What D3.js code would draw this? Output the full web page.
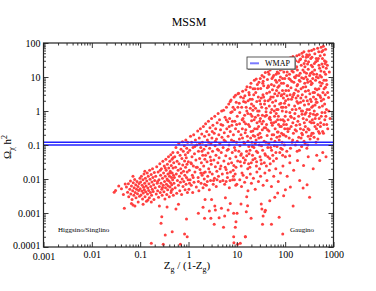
<!DOCTYPE html>
<html>
<head>
<meta charset="utf-8">
<script src="https://cdn.jsdelivr.net/npm/d3@7"></script>
<style>
body { margin:0; background:#fff; }
text { font-family:"Liberation Serif","Times New Roman",serif; fill:#000; }
</style>
</head>
<body>
<svg id="chart"></svg>
<script>
var screen = {width:376,height:291}
var plot = {left:43.5,right:333.5,top:43,bottom:247}

// tick labels
var xTicks = [0.001,0.01,0.1,1,10,100,1000]
var xTickLabels = ["0.001","0.01","0.1","1","10","100","1000"]
var yTicks = [0.0001,0.001,0.01,0.1,1,10,100]
var yTickLabels = ["0.0001","0.001","0.01","0.1","1","10","100"]

// WMAP band edges
var wmap = [0.1,0.12]

// [Zg/(1-Zg), Omega h^2]
var lowBand = [
 [0.029,0.0041],[0.031,0.0046],[0.036,0.0062],[0.041,0.0052],[0.045,0.0035],[0.049,0.0071],
 [0.052,0.0058],[0.055,0.0041],[0.057,0.0072],[0.058,0.0030],[0.061,0.0050],[0.063,0.0088],[0.064,0.0036],
 [0.066,0.0062],[0.068,0.0025],[0.070,0.0045],[0.072,0.0078],[0.074,0.0033],[0.075,0.0055],[0.077,0.0097],
 [0.079,0.0040],[0.081,0.0068],[0.082,0.0028],[0.084,0.0050],[0.086,0.0085],[0.088,0.0037],[0.090,0.0060],
 [0.091,0.0021],[0.093,0.0046],[0.095,0.0074],[0.097,0.0031],[0.099,0.0105],[0.066,0.0019],[0.071,0.0120],[0.078,0.0016],
 [0.100,0.0052],[0.102,0.0082],[0.104,0.0034],[0.106,0.0120],[0.108,0.0044],[0.110,0.0065],[0.112,0.0026],
 [0.114,0.0095],[0.116,0.0039],[0.118,0.0057],[0.120,0.0140],[0.122,0.0048],[0.124,0.0075],[0.126,0.0030],
 [0.128,0.0105],[0.130,0.0042],[0.133,0.0062],[0.135,0.0022],[0.137,0.0088],[0.140,0.0150],[0.142,0.0036],
 [0.144,0.0054],[0.147,0.0120],[0.150,0.0046],[0.152,0.0072],[0.155,0.0028],[0.157,0.0180],[0.160,0.0098],
 [0.163,0.0040],[0.166,0.0060],[0.169,0.0135],[0.172,0.0033],[0.175,0.0082],[0.178,0.0050],[0.180,0.0200],
 [0.183,0.0110],[0.186,0.0043],[0.190,0.0068],[0.193,0.0025],[0.196,0.0155],[0.200,0.0090],[0.115,0.0018],
 [0.145,0.0024],[0.170,0.0021],[0.125,0.0170],
 [0.205,0.0055],[0.210,0.0120],[0.215,0.0036],[0.220,0.0230],[0.225,0.0075],[0.230,0.0045],[0.235,0.0160],
 [0.240,0.0029],[0.245,0.0095],[0.250,0.0060],[0.255,0.0280],[0.260,0.0040],[0.265,0.0130],[0.270,0.0075],
 [0.275,0.0200],[0.280,0.0050],[0.285,0.0033],[0.290,0.0105],[0.295,0.0330],[0.300,0.0065],[0.305,0.0150],
 [0.310,0.0042],[0.315,0.0240],[0.320,0.0085],[0.325,0.0026],[0.330,0.0120],[0.335,0.0055],[0.340,0.0380],
 [0.345,0.0180],[0.350,0.0070],[0.355,0.0035],[0.360,0.0100],[0.365,0.0270],[0.370,0.0048],[0.375,0.0140],
 [0.380,0.0062],[0.385,0.0450],[0.390,0.0210],[0.395,0.0088],[0.400,0.0030],[0.405,0.0120],[0.410,0.0330],
 [0.415,0.0058],[0.420,0.0170],[0.425,0.0078],[0.430,0.0520],[0.435,0.0040],[0.440,0.0250],[0.445,0.0110],
 [0.450,0.0068],[0.455,0.0380],[0.460,0.0150],[0.465,0.0050],[0.470,0.0095],[0.475,0.0600],[0.480,0.0210],
 [0.485,0.0033],[0.490,0.0130],[0.495,0.0300],[0.500,0.0075],[0.230,0.0085],[0.260,0.0180],[0.290,0.0056],
 [0.330,0.0210],[0.370,0.0092],[0.410,0.0150],[0.440,0.0045],[0.480,0.0420],
 [0.51,0.011],[0.52,0.045],[0.53,0.0055],[0.54,0.022],[0.55,0.085],[0.56,0.0140],[0.57,0.0038],[0.58,0.033],
 [0.59,0.0090],[0.60,0.060],[0.61,0.018],[0.62,0.0065],[0.63,0.110],[0.64,0.028],[0.65,0.0120],[0.66,0.0045],
 [0.67,0.050],[0.68,0.0080],[0.69,0.020],[0.70,0.075],[0.71,0.0150],[0.72,0.0035],[0.73,0.040],[0.74,0.0100],
 [0.75,0.125],[0.76,0.026],[0.77,0.0060],[0.78,0.065],[0.79,0.017],[0.80,0.0085],[0.82,0.095],[0.83,0.034],
 [0.84,0.0130],[0.85,0.0048],[0.86,0.052],[0.87,0.022],[0.88,0.140],[0.89,0.0070],[0.90,0.042],[0.91,0.0110],
 [0.92,0.080],[0.93,0.027],[0.94,0.0160],[0.95,0.0040],[0.96,0.120],[0.97,0.060],[0.98,0.0095],[0.99,0.032]
]

var midCloud = [
 [1.02,0.0050],[1.04,0.018],[1.06,0.070],[1.08,0.0095],[1.10,0.180],[1.12,0.030],[1.14,0.0065],[1.16,0.120],
 [1.18,0.045],[1.20,0.0130],[1.22,0.0040],[1.24,0.085],[1.26,0.024],[1.28,0.200],[1.30,0.0080],[1.33,0.055],
 [1.36,0.0160],[1.39,0.140],[1.42,0.036],[1.45,0.0058],[1.48,0.100],
 [1.52,0.022],[1.55,0.260],[1.58,0.0110],[1.61,0.065],[1.64,0.0045],[1.67,0.160],[1.70,0.040],[1.73,0.0190],
 [1.76,0.300],[1.79,0.085],[1.82,0.0075],[1.85,0.030],[1.88,0.210],[1.91,0.0130],[1.94,0.120],[1.97,0.050],
 [2.00,0.0055],[2.03,0.350],[2.06,0.024],[2.09,0.075],[2.12,0.0100],[2.15,0.180],[2.18,0.038],
 [2.22,0.0160],[2.26,0.420],[2.30,0.095],[2.34,0.0065],[2.38,0.250],[2.42,0.032],[2.46,0.140],[2.50,0.0120],
 [2.54,0.058],[2.58,0.500],[2.62,0.0200],[2.66,0.200],[2.70,0.0048],[2.74,0.080],[2.78,0.320],[2.82,0.044],
 [2.86,0.0090],[2.90,0.110],[2.95,0.027],[3.00,0.600],[3.05,0.160],[3.10,0.0140],[3.15,0.065],[3.20,0.380],[3.25,0.0070],
 [3.35,0.036],[3.40,0.220],[3.45,0.0105],[3.50,0.700],[3.55,0.095],[3.60,0.0230],[3.65,0.300],[3.70,0.050],
 [3.75,0.0060],[3.80,0.150],[3.86,0.0170],[3.92,0.450],[3.98,0.075],[4.05,0.030],[4.10,0.850],[4.17,0.0120],
 [4.24,0.200],[4.30,0.042],[4.38,0.550],[4.45,0.110],[4.52,0.0085],[4.60,0.280],[4.68,0.024],[4.76,0.060],
 [4.85,1.00],[4.92,0.170],
 [5.0,0.0140],[5.1,0.380],[5.2,0.085],[5.3,1.05],[5.4,0.034],[5.5,0.230],[5.6,0.0070],[5.7,0.650],[5.8,0.130],
 [5.9,0.048],[6.0,0.0190],[6.1,1.30],[6.2,0.300],[6.3,0.070],[6.4,0.0110],[6.5,0.480],[6.6,0.180],[6.7,0.028],
 [6.8,1.60],[6.9,0.100],[7.0,0.0055],[7.1,0.600],[7.2,0.040],[7.3,0.250],[7.4,0.016],[7.3,1.90],
 [7.6,2.10],[7.75,0.140],[7.9,0.380],[8.05,0.060],[8.2,0.0095],[8.35,1.30],[8.5,0.200],[8.65,0.025],[8.8,2.60],
 [8.95,0.085],[9.1,0.500],[9.25,0.0140],[9.4,0.300],[9.55,0.045],[9.7,1.80],[9.85,0.120],[10.0,0.0070],
 [9.4,2.90],[8.0,0.95],
 [1.05,0.0075],[1.15,0.028],[1.25,0.0110],[1.35,0.090],[1.45,0.022],[1.6,0.0085],[1.7,0.11],[1.8,0.015],
 [1.9,0.065],[2.05,0.0150],[2.15,0.0070],[2.25,0.050],[2.45,0.0085],[2.6,0.120],[2.75,0.016],[2.9,0.035],
 [3.1,0.25],[3.3,0.0090],[3.6,0.130],[3.9,0.0095],[4.2,0.070],[4.5,0.020],[4.7,0.40],[5.15,0.0090],[5.45,0.14],
 [5.75,0.022],[6.05,0.55],[6.35,0.0150],[6.65,0.075],[6.95,0.35],[7.25,0.0090],[7.5,0.90],[7.8,0.030],[8.1,0.50],
 [8.4,0.0180],[8.7,0.13],[9.0,1.10],[9.3,0.070],[9.6,0.022],[9.9,0.40],[8.9,0.0095]
]

var upperCloud = [
 [10.2,0.70],[10.4,0.034],[10.6,3.2],[10.8,0.25],[11.0,0.065],[11.2,1.7],[11.4,0.42],[11.6,0.095],[11.8,0.032],
 [12.0,2.6],[12.2,0.20],[12.4,0.055],[12.6,1.30],[12.8,0.015],[13.0,0.30],[13.2,3.8],[13.4,0.60],[13.6,0.042],
 [13.8,1.9],[13.9,0.12],[11.5,0.90],[12.3,0.024],[13.1,0.16],[10.9,3.3],
 [14.1,0.48],[14.4,0.11],[14.7,2.8],[15.0,0.036],[15.3,0.28],[15.6,1.3],[15.9,0.065],[16.2,5.2],[16.5,0.18],
 [16.8,0.020],[17.1,2.0],[17.4,0.40],[17.7,0.090],[14.5,0.75],[15.4,4.2],[16.0,0.048],[16.9,0.85],[17.5,0.028],
 [14.9,0.23],[17.8,3.5],[15.1,1.8],
 [18.1,3.0],[18.4,0.35],[18.7,0.070],[19.0,1.2],[19.3,0.16],[19.6,6.5],[19.9,0.030],[20.2,0.52],[20.5,0.12],
 [20.8,2.2],[21.1,0.050],[21.4,0.26],[21.7,4.5],[18.6,0.022],[19.4,0.80],[20.1,1.6],[21.0,0.090],[21.8,0.19],
 [18.9,5.0],[21.5,1.05],
 [22.2,1.4],[22.6,0.085],[23.0,8.0],[23.4,0.30],[23.8,0.040],[24.2,0.65],[24.6,3.5],[25.0,0.14],[25.4,0.024],
 [25.8,1.9],[26.2,0.45],[26.6,6.0],[27.0,0.060],[27.4,0.20],[27.8,2.6],[22.8,0.55],[24.0,0.11],[25.6,0.032],
 [26.9,1.0],[23.6,4.5],[25.2,8.8],[27.6,0.75],
 [28.2,0.35],[28.7,7.0],[29.2,0.10],[29.7,2.0],[30.2,0.045],[30.7,0.60],[31.2,4.6],[31.7,0.17],[32.2,0.028],
 [32.7,1.3],[33.2,11.0],[33.7,0.28],[34.2,0.070],[34.7,3.0],[28.9,1.0],[30.0,0.22],[31.5,0.036],[33.0,0.42],
 [34.4,6.5],[29.5,0.020],[30.5,9.0],[32.0,2.4],
 [35.3,0.50],[36.0,5.5],[36.7,0.13],[37.4,1.6],[38.1,0.055],[38.8,13.5],[39.5,0.32],[40.2,0.95],[40.9,0.024],
 [41.6,3.3],[42.3,0.19],[43.0,8.5],[43.7,0.085],[44.4,2.0],[35.8,2.6],[37.0,0.030],[38.4,0.70],[39.9,0.12],
 [41.2,0.40],[42.8,4.8],[44.0,0.045],[36.4,10.0],[40.5,1.2],[44.6,14.0],
 [45.2,5.2],[46.1,0.26],[47.0,1.4],[47.9,0.040],[48.8,16.0],[49.7,0.55],[50.6,2.6],[51.5,0.15],[52.4,0.070],
 [53.3,9.0],[54.2,0.38],[55.1,1.8],[45.8,0.11],[47.5,3.6],[49.0,0.028],[50.2,0.90],[52.0,6.0],[53.8,0.20],
 [55.5,0.050],[46.5,12.0],[51.0,18.0],[54.6,4.2],[48.2,0.65],
 [56.5,2.6],[57.6,0.45],[58.7,20.0],[59.8,0.095],[60.9,1.4],[62.0,0.30],[63.1,8.0],[64.2,0.060],[65.3,0.85],
 [66.4,4.0],[67.5,0.17],[68.6,14.0],[69.7,0.55],[57.2,0.034],[59.0,5.5],[61.5,0.13],[63.8,2.0],[65.9,0.040],
 [67.0,1.1],[69.0,0.24],[57.8,11.0],[62.5,22.0],[66.8,7.0],[60.2,0.70],
 [70.8,5.0],[72.3,0.70],[73.8,24.0],[75.3,0.14],[76.8,1.6],[78.3,0.35],[79.8,10.0],[81.3,0.080],[82.8,2.8],
 [84.3,0.22],[85.8,17.0],[87.3,1.0],[88.8,0.050],[71.5,0.24],[74.5,3.4],[77.5,0.060],[80.5,0.55],[83.5,6.5],
 [86.5,0.12],[88.0,4.0],[72.8,13.0],[78.0,27.0],[84.0,1.3],[76.0,8.0],
 [89.8,1.3],[91.5,30.0],[93.2,0.40],[94.9,3.2],[96.6,0.10],[98.3,9.0],[100,0.70],[102,2.0],[104,0.18],
 [106,20.0],[108,0.065],[110,5.5],[111.5,0.30],[90.5,0.20],[93.8,14.0],[97.0,1.7],[101,0.045],[105,0.95],
 [109,2.8],[95.5,0.50],[92.5,6.5],[99.5,25.0],[103.5,4.0],[107,11.0],
 [10.5,1.3],[11.3,0.15],[12.1,0.050],[12.9,0.55],[13.7,2.4],[14.3,0.030],[15.2,0.42],[16.1,1.0],[17.0,0.13],
 [17.9,0.055],[18.8,2.2],[19.7,0.25],[20.6,0.70],[21.5,0.037],[22.4,3.0],[23.3,0.18],[24.4,1.2],[25.5,0.065],
 [26.4,0.30],[27.3,4.5],[28.5,0.16],[29.8,0.50],[31.0,1.6],[32.4,0.095],[33.8,0.75],[35.0,7.5],[36.8,0.32],
 [38.0,2.0],[39.2,0.050],[41.0,0.75],[43.3,0.28],[44.8,5.5],[46.8,0.60],[48.5,2.2],[50.0,0.085],[51.8,0.45],
 [53.0,1.1],[55.8,10.0],[58.0,0.20],[59.5,1.0],[61.0,3.2],[63.5,0.48],[65.0,12.0],[67.8,0.090],[69.3,2.8],
 [71.0,1.1],[73.0,0.40],[75.0,5.5],[77.0,0.18],[79.0,16.0],[81.5,1.7],[83.0,0.35],[85.0,3.0],[87.0,0.075],
 [88.5,9.0],[90.0,0.55],[92.0,2.4],[94.0,0.20],[96.0,18.0],[98.0,0.30]
]

var rightCloud = [
 [113,5.5],[115,0.55],[117,30.0],[119,1.5],[121,0.16],[123,12.0],[125,0.90],[127,3.0],[129,0.080],[131,20.0],
 [133,0.35],[135,2.2],[137,7.5],[139,0.12],[140,1.1],[114,0.25],[118,4.0],[124,0.048],[128,37.0],[134,0.65],
 [138,15.0],[120,9.0],[126,25.0],[132,4.8],
 [142,2.6],[145,40.0],[148,0.22],[151,7.0],[154,0.60],[157,1.4],[160,18.0],[163,0.10],[166,4.2],[169,0.38],
 [172,11.0],[175,1.9],[177,0.065],[143,0.14],[147,14.0],[153,3.3],[159,0.85],[165,30.0],[171,0.26],[176,5.5],
 [150,24.0],[162,9.5],[168,2.4],[174,42.0],
 [179,16.0],[183,0.50],[187,3.8],[191,0.17],[195,45.0],[199,1.2],[203,7.5],[207,0.30],[211,2.4],[215,22.0],
 [219,0.090],[223,0.80],[181,6.0],[185,1.7],[193,11.0],[197,0.070],[201,0.40],[209,34.0],[213,4.5],[221,0.22],
 [189,28.0],[205,13.0],[217,1.0],[222,50.0],
 [226,3.0],[231,40.0],[236,0.60],[241,9.0],[246,0.13],[251,1.5],[256,20.0],[261,0.35],[266,5.2],[271,0.90],
 [276,13.0],[281,0.080],[228,0.20],[233,16.0],[238,2.0],[244,55.0],[249,0.45],[254,6.5],[259,0.11],[264,30.0],
 [269,2.6],[274,0.24],[279,45.0],[247,25.0],[268,10.0],
 [285,1.1],[291,24.0],[297,0.30],[303,4.0],[309,58.0],[315,0.70],[321,11.0],[327,0.15],[333,2.2],[339,35.0],
 [345,6.0],[351,0.45],[288,8.5],[294,0.10],[300,17.0],[306,1.6],[312,0.28],[318,45.0],[324,3.2],[330,0.85],
 [336,13.0],[342,0.19],[348,22.0],[354,1.3],[296,40.0],[352,60.0],
 [358,38.0],[365,0.55],[372,9.0],[379,0.22],[386,2.6],[393,65.0],[400,1.0],[407,16.0],[414,0.35],[421,4.5],
 [428,28.0],[435,0.12],[442,1.8],[361,6.5],[368,20.0],[375,1.4],[383,0.80],[390,12.0],[397,0.17],[404,3.5],
 [411,48.0],[418,0.60],[425,8.0],[432,2.2],[439,35.0],[446,0.30],
 [450,12.0],[460,0.80],[470,70.0],[480,3.0],[490,0.25],[500,22.0],[510,1.3],[520,7.0],[530,42.0],[540,0.45],
 [550,15.0],[560,2.0],[455,4.2],[465,30.0],[475,0.15],[485,9.5],[495,55.0],[505,0.60],[515,18.0],[525,2.8],
 [535,0.35],[545,5.5],[555,75.0],
 [565,10.0],[578,0.90],[591,35.0],[604,3.5],[617,80.0],[630,0.40],[643,14.0],[656,1.6],[669,25.0],[682,5.0],
 [695,0.70],[708,18.0],[570,55.0],[583,6.5],[596,0.25],[609,20.0],[622,2.2],[635,8.0],[648,45.0],[661,0.55],
 [674,3.0],[687,12.0],[700,28.0],[715,1.1],
 [730,6.0],[760,0.30],[790,2.5],[820,14.0],[850,0.60],[745,22.0],[800,1.0],
 [103,1.3],[106,0.40],[110,14.0],[116,2.2],[122,0.30],[127,8.5],[130,0.70],[136,28.0],[144,0.45],[149,3.0],
 [156,10.0],[161,0.28],[167,1.1],[173,20.0],[178,0.13],[184,2.8],[190,0.70],[196,8.0],[202,32.0],[208,1.8],
 [214,0.16],[220,9.5],[229,1.0],[235,5.0],[240,0.28],[250,14.0],[257,0.80],[263,3.8],[272,38.0],[278,0.55],
 [287,2.0],[293,7.0],[299,0.18],[305,28.0],[316,1.1],[325,0.48],[334,7.5],[346,1.9],[357,0.22],[364,14.0],
 [378,3.5],[392,0.45],[402,25.0],[416,1.5],[430,0.75],[444,10.0],[458,1.8],[472,0.40],[486,35.0],[498,4.5],
 [512,0.22],[527,11.0],[542,2.5],[558,0.70],[575,24.0],[590,1.4],[605,60.0],[620,0.22],[637,4.5],[652,30.0],
 [667,0.90],[685,65.0],[705,8.0],[725,0.40],[755,3.5]
]

var sparse = [
 [0.047,0.00137],[0.071,0.00172],[0.17,0.00013],[0.28,0.00078],[0.27,0.00050],[0.30,0.00012],[0.33,0.000225],
 [0.46,0.00028],[0.55,0.00131],[0.83,0.00024],[0.91,0.00067],[0.94,0.00020],[0.68,0.00012],[1.6,0.00098],
 [2.0,0.00147],[2.15,0.0007],[2.7,0.00115],[2.9,0.0007],[3.4,0.00047],[3.6,0.00122],[4.3,0.00073],[4.8,0.00137],
 [5.6,0.00082],[7.3,0.0019],[6.6,0.00122],[8.6,0.00098],[10.1,0.00098],[9.6,0.00055],[8.6,0.0002],
 [8.7,0.000134],[10.4,0.00012],[12.2,0.00184],[15.7,0.00109],[16.7,0.00164],[19.7,0.0007],[15,0.0002],
 [32,0.00184],[33,0.00131],[35,0.00082],[38,0.00109],[34,0.00047],[52,0.00047],[75,0.00075],[89,0.00024],
 [146,0.0016],[48,0.0023],[0.25,0.0016],[0.36,0.0015],[0.62,0.0018],[3.5,0.0016],[3.0,0.0025],[2.2,0.0025],
 [5.8,0.0028],[16,0.0030],[39,0.0012],[320,0.0029],[235,0.0054],[284,0.0068],[128,0.0058],[101,0.0048],
 [61,0.0029],[70,0.0039],[93,0.0032],[5.3,0.00038],[9.3,0.00038],[15,0.00020],[11.8,0.00013],
 [6.0,0.0085],[8.5,0.012],[9.5,0.0065],[11.5,0.0095],[12.5,0.0060],[13.5,0.013],[14.5,0.0080],[16,0.011],
 [17,0.0045],[19,0.0140],[20,0.0075],[22,0.0105],[24,0.0050],[26,0.016],[28,0.0085],[31,0.012],[35,0.0065],
 [38,0.0150],[42,0.0090],[47,0.018],[52,0.0060],[58,0.0120],[64,0.020],[72,0.0085],[80,0.015],[90,0.024],
 [110,0.012],[125,0.030],[150,0.018],[180,0.035],[200,0.0090],[240,0.025],[300,0.045],[380,0.020],
 [450,0.050],[520,0.035],[600,0.060],[700,0.045]
]

var allPoints = lowBand.concat(midCloud, upperCloud, rightCloud, sparse)

var svg = d3.select("#chart")
    .attr("width",screen.width)
    .attr("height",screen.height)

var xScale = d3.scaleLog()
    .domain([0.001,1000])
    .range([plot.left,plot.right])

var yScale = d3.scaleLog()
    .domain([0.0001,100])
    .range([plot.bottom,plot.top])

// minor tick values, 2..9 inside each decade
var minorTicks = function(lo,hi)
{
    var out = []
    for (var e = lo; e < hi; e++) {
        for (var m = 2; m <= 9; m++) { out.push(m*Math.pow(10,e)) }
    }
    return out
}

var drawAxes = function()
{
    var w = plot.right-plot.left
    var h = plot.bottom-plot.top
    var fmtX = function(d,i){return xTickLabels[i]}
    var fmtY = function(d,i){return yTickLabels[i]}

    // major, labelled
    svg.append("g").attr("class","axis xaxis")
        .attr("transform","translate(0,"+plot.bottom+")")
        .call(d3.axisBottom(xScale).tickValues(xTicks).tickFormat(fmtX).tickSize(-5).tickPadding(4))
    svg.append("g").attr("class","axis yaxis")
        .attr("transform","translate("+plot.left+",0)")
        .call(d3.axisLeft(yScale).tickValues(yTicks).tickFormat(fmtY).tickSize(-5).tickPadding(3))
    // top / right mirrored
    svg.append("g").attr("class","axis")
        .attr("transform","translate(0,"+plot.top+")")
        .call(d3.axisTop(xScale).tickValues(xTicks).tickFormat("").tickSize(-5))
    svg.append("g").attr("class","axis")
        .attr("transform","translate("+plot.right+",0)")
        .call(d3.axisRight(yScale).tickValues(yTicks).tickFormat("").tickSize(-5))

    // minor
    var mx = minorTicks(-3,3)
    var my = minorTicks(-4,2)
    svg.append("g").attr("class","axis minor")
        .attr("transform","translate(0,"+plot.bottom+")")
        .call(d3.axisBottom(xScale).tickValues(mx).tickFormat("").tickSize(-2.5))
    svg.append("g").attr("class","axis minor")
        .attr("transform","translate(0,"+plot.top+")")
        .call(d3.axisTop(xScale).tickValues(mx).tickFormat("").tickSize(-2.5))
    svg.append("g").attr("class","axis minor")
        .attr("transform","translate("+plot.left+",0)")
        .call(d3.axisLeft(yScale).tickValues(my).tickFormat("").tickSize(-2.5))
    svg.append("g").attr("class","axis minor")
        .attr("transform","translate("+plot.right+",0)")
        .call(d3.axisRight(yScale).tickValues(my).tickFormat("").tickSize(-2.5))

    svg.selectAll(".axis .domain").remove()
    svg.selectAll(".axis line").attr("stroke","#222").attr("stroke-width",0.9)
    svg.selectAll(".axis text")
        .style("font-family","'Liberation Serif','Times New Roman',serif")
        .style("font-size","10px")
        .attr("fill","#000")
    // lowest y label sits just above the first x label
    svg.selectAll(".yaxis text").filter(function(d){return d === 0.0001}).attr("dy","0.1em")
    svg.selectAll(".xaxis text").filter(function(d){return d === 0.001}).attr("dy","0.85em")

    svg.append("rect")
        .attr("x",plot.left).attr("y",plot.top)
        .attr("width",w).attr("height",h)
        .attr("fill","none")
        .attr("stroke","#222")
        .attr("stroke-width",1.2)
}

var drawPoints = function(pts)
{
    svg.append("g")
        .attr("clip-path","url(#clip)")
        .selectAll("circle")
        .data(pts)
        .enter()
        .append("circle")
        .attr("cx",function(d){return xScale(d[0])})
        .attr("cy",function(d){return yScale(d[1])})
        .attr("r",1.5)
        .attr("fill","#ff4040")
}

var drawWmap = function()
{
    svg.append("g")
        .selectAll("line")
        .data(wmap)
        .enter()
        .append("line")
        .attr("x1",xScale(0.001)).attr("x2",xScale(1000))
        .attr("y1",function(d){return yScale(d)})
        .attr("y2",function(d){return yScale(d)})
        .attr("stroke","#2020ff")
        .attr("stroke-width",1.6)
}

var drawText = function()
{
    svg.append("text")
        .attr("x",189).attr("y",26)
        .attr("text-anchor","middle")
        .style("font-size","12px")
        .text("MSSM")

    var xl = svg.append("text")
        .attr("x",187).attr("y",269)
        .attr("text-anchor","middle")
        .style("font-size","11px")
    xl.append("tspan").text("Z")
    xl.append("tspan").attr("dy",3).style("font-size","8px").text("g")
    xl.append("tspan").attr("dy",-3).text(" / (1-Z")
    xl.append("tspan").attr("dy",3).style("font-size","8px").text("g")
    xl.append("tspan").attr("dy",-3).text(")")

    var yl = svg.append("text")
        .attr("transform","translate(11,147) rotate(-90)")
        .attr("text-anchor","middle")
        .style("font-size","11px")
    yl.append("tspan").text("\u03A9")
    yl.append("tspan").attr("dy",3).style("font-size","8px").text("\u03C7")
    yl.append("tspan").attr("dy",-3).text(" h")
    yl.append("tspan").attr("dy",-4).style("font-size","8px").text("2")

    svg.append("text")
        .attr("x",58).attr("y",232)
        .style("font-size","7px")
        .text("Higgsino/Singlino")
    svg.append("text")
        .attr("x",290).attr("y",232)
        .style("font-size","7px")
        .text("Gaugino")
}

var drawLegend = function()
{
    var g = svg.append("g").attr("transform","translate(247,57)")
    g.append("rect")
        .attr("x",1).attr("y",1).attr("width",48).attr("height",12)
        .attr("fill","#999")
    g.append("rect")
        .attr("width",48).attr("height",12)
        .attr("fill","#fff")
        .attr("stroke","#333")
        .attr("stroke-width",0.8)
    g.append("line")
        .attr("x1",3).attr("x2",12).attr("y1",6.3).attr("y2",6.3)
        .attr("stroke","#7a7aff")
        .attr("stroke-width",2)
    g.append("text")
        .attr("x",18).attr("y",9)
        .style("font-size","8px")
        .text("WMAP")
}

svg.append("defs").append("clipPath").attr("id","clip")
    .append("rect")
    .attr("x",plot.left).attr("y",plot.top)
    .attr("width",plot.right-plot.left).attr("height",plot.bottom-plot.top)

drawPoints(allPoints)
drawWmap()
drawAxes()
drawText()
drawLegend()
</script>
</body>
</html>
